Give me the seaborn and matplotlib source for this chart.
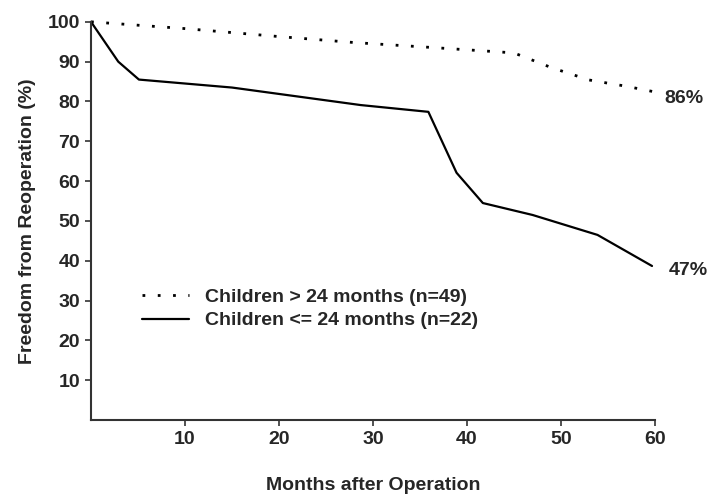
import pandas as pd
import matplotlib.pyplot as plt
import seaborn as sns

# survival curves
older_months = [0, 10, 20, 28, 36, 45, 49, 53, 57, 60]
older_free = [100, 98.3, 96.3, 94.8, 93.6, 92.2, 88.5, 85.4, 83.8, 82.4]

younger_months = [0, 2.9, 5.1, 15, 28.7, 35.9, 38.9, 41.7, 47, 53.9, 59.7]
younger_free = [100, 90, 85.5, 83.5, 79.1, 77.4, 62.1, 54.5, 51.5, 46.5, 38.7]

older_label = "Children > 24 months (n=49)"
younger_label = "Children <= 24 months (n=22)"
end_labels = ["86%", "47%"]

FS = 14

sns.set_style("ticks")
plt.rcParams['font.family'] = ['Liberation Sans', 'DejaVu Sans']
plt.rcParams['font.weight'] = 'bold'

fig = plt.figure(figsize=(7.11, 4.96), dpi=100)
ax = fig.add_axes([0.128, 0.153, 0.793, 0.803])

older = pd.DataFrame({"month": older_months, "free": older_free})
younger = pd.DataFrame({"month": younger_months, "free": younger_free})

sns.lineplot(data=older, x="month", y="free", ax=ax, color="black",
             linewidth=2, linestyle=(0, (1, 4.5)), label=older_label)
sns.lineplot(data=younger, x="month", y="free", ax=ax, color="black",
             linewidth=1.6, label=younger_label)

ax.text(61.0, 80.8, end_labels[0], fontsize=FS, fontweight='bold', va='center')
ax.text(61.5, 37.5, end_labels[1], fontsize=FS, fontweight='bold', va='center')

ax.set_xlim(0, 60)
ax.set_ylim(0, 100)
ax.set_xticks([10, 20, 30, 40, 50, 60])
ax.set_yticks(range(10, 101, 10))
ax.tick_params(labelsize=FS, length=4, width=1.2, color="#333333")
for lab in ax.get_xticklabels() + ax.get_yticklabels():
    lab.set_fontweight('bold')
ax.tick_params(axis='x', pad=4)
ax.tick_params(axis='y', pad=4)
sns.despine(ax=ax)
for side in ["left", "bottom"]:
    ax.spines[side].set_linewidth(1.5)
    ax.spines[side].set_color("#333333")

ax.set_xlabel("Months after Operation", fontsize=FS, fontweight='bold', labelpad=21)
ax.set_ylabel("Freedom from Reoperation (%)", fontsize=FS, fontweight='bold', labelpad=8)

leg = ax.legend(loc="upper left", bbox_to_anchor=(0.06, 0.375), frameon=False,
                fontsize=FS, handlelength=2.4, handletextpad=0.8, labelspacing=0.3)
for t in leg.get_texts():
    t.set_fontweight('bold')
for line in ax.get_lines():
    line.set_clip_on(False)

fig.savefig("out.png", dpi=100)
